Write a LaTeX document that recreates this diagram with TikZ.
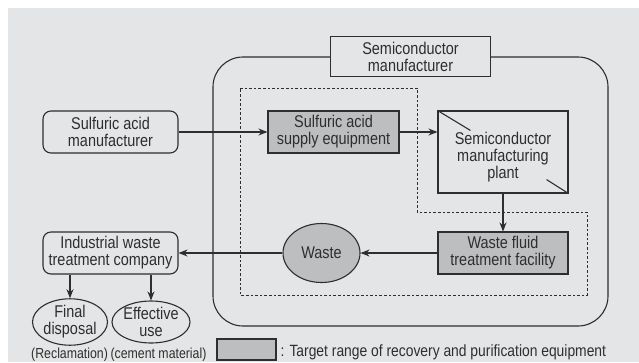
\documentclass[tikz,border=0pt]{standalone}
\usepackage{fontspec}
\setmainfont{Liberation Sans}[FakeStretch=0.85]
\usepackage{tikz}
\usetikzlibrary{arrows.meta,shapes.geometric}

\definecolor{bggray}{HTML}{E4E5E6}
\definecolor{boxgray}{HTML}{BDBEC0}
\definecolor{inkgray}{HTML}{2E2E2E}

\begin{document}
\begin{tikzpicture}[x=1pt, y=-1pt, line width=1.1pt, draw=inkgray, text=inkgray,
		box_style/.style={draw, inner sep=0pt, align=center, font=\fontsize{17}{17}\selectfont},
		round_style/.style={box_style, rounded corners=8pt, minimum width=135pt, minimum height=42pt},
		equip_style/.style={box_style, fill=boxgray, minimum width=131pt, minimum height=42pt},
		oval_style/.style={box_style, ellipse, minimum width=74pt, minimum height=42pt},
		label_style/.style={inner sep=0pt, align=center, font=\fontsize{17}{17}\selectfont},
		note_style/.style={inner sep=0pt, font=\fontsize{14.5}{15}\selectfont},
		edge_style/.style={-{Stealth[length=9pt,width=7pt]}}]

		\useasboundingbox (0,0) rectangle (639,362);
		\fill[bggray] (8,8) rectangle (639,362);

		\node[draw, rounded corners=30pt, minimum width=395pt, minimum height=269pt] (site) at (410.5,191.5) {};
		\node[box_style, fill=bggray, minimum width=160pt, minimum height=40pt] (semi) at (site.north) {Semiconductor\\manufacturer};
		\draw[line width=0.8pt, dash pattern=on 2.6pt off 2pt]
			(240,88) -- (417,88) -- (417,212) -- (587,212) -- (587,295) -- (240,295) -- cycle;

		\node[round_style] (sam) at (110.5,132) {Sulfuric acid\\manufacturer};
		\node[equip_style] (sse) at (333.5,132) {Sulfuric acid\\supply equipment};
		\node[box_style, minimum width=130pt, minimum height=82pt] (plant) at (503,152) {};
		\node[label_style] (plantname) at (503,157) {Semiconductor\\manufacturing\\plant};
		\node[equip_style, minimum width=130pt] (wft) at (503,253) {Waste fluid\\treatment facility};
		\node[box_style, ellipse, fill=boxgray, minimum width=77pt, minimum height=59pt] (waste) at (321.5,253) {Waste};
		\node[round_style] (iwt) at (110.5,253) {Industrial waste\\treatment company};
		\node[oval_style] (final) at (70,322) {Final\\disposal};
		\node[oval_style] (use) at (151,322) {Effective\\use};
		\node[note_style, anchor=east] (recl) at (108.5,355) {(Reclamation)};
		\node[note_style, anchor=west] (cement) at (110,355) {(cement material)};
		\node[box_style, fill=boxgray, minimum width=59pt, minimum height=21pt] (legend) at (246.5,349.5) {};
		\node[note_style, font=\fontsize{16.3}{17}\selectfont, anchor=west] (legtext) at (280,352) {: Target range of recovery and purification equipment};

		\draw (plant.north west) -- ++(33,20);
		\draw (plant.south east) -- ++(-22,-14);

		\draw[edge_style] (sam) -- (sse);
		\draw[edge_style] (sse) -- (sse -| plant.west);
		\draw[edge_style] (plant) -- (wft);
		\draw[edge_style] (wft) -- (waste);
		\draw[edge_style] (waste) -- (iwt);
		\draw[edge_style] (iwt.south -| final) -- (final);
		\draw[edge_style] (iwt.south -| use) -- (use);

\end{tikzpicture}
\end{document}
